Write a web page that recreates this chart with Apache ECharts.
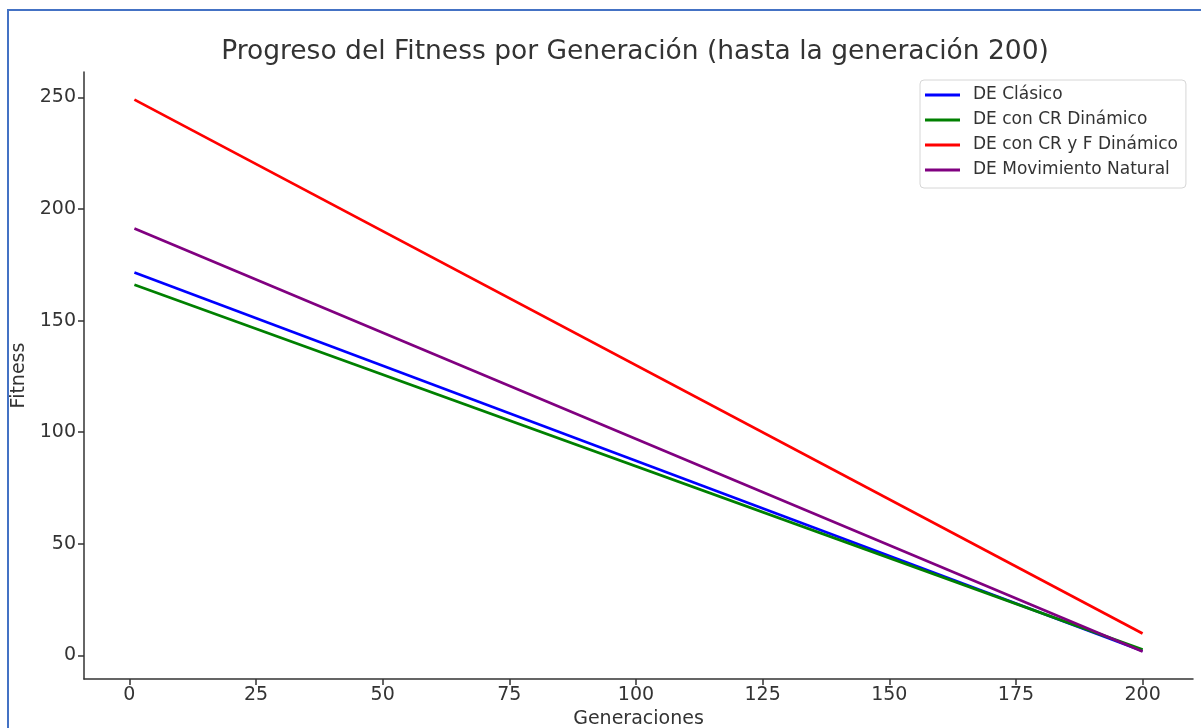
<!DOCTYPE html>
<html>
<head>
<meta charset="utf-8">
<script src="https://cdn.jsdelivr.net/npm/echarts@6/dist/echarts.min.js"></script>
<style>
  html, body { margin: 0; padding: 0; background: #fff; }
  #chart { width: 1201px; height: 728px; }
  #frame { position: absolute; left: 7px; top: 9px; width: 1300px; height: 900px; border: 2px solid #4472C4; box-sizing: border-box; pointer-events: none; }
</style>
</head>
<body>
<div id="chart"></div>
<div id="frame"></div>
<script>
// Data (generations 1..200, straight-line progress)
const generations = [1, 200];
const deClasico = [171.5, 2.0];
const deCR = [166.1, 2.6];
const deCRF = [249.0, 9.8];
const deNatural = [191.2, 1.8];
const seriesNames = ['DE Clásico', 'DE con CR Dinámico', 'DE con CR y F Dinámico', 'DE Movimiento Natural'];
const seriesColors = ['#0000ff', '#008000', '#ff0000', '#800080'];
const xTicks = [0, 25, 50, 75, 100, 125, 150, 175, 200];
const yTicks = [0, 50, 100, 150, 200, 250];

const FONT = 'DejaVu Sans';
const allSeries = [deClasico, deCR, deCRF, deNatural];
const allVals = allSeries.flat();
const xMinD = Math.min(...generations), xMaxD = Math.max(...generations);
const yMinD = Math.min(...allVals), yMaxD = Math.max(...allVals);
const xPad = (xMaxD - xMinD) * 0.05, yPad = (yMaxD - yMinD) * 0.05;

const chart = echarts.init(document.getElementById('chart'));
chart.setOption({
  animation: false,
  backgroundColor: '#ffffff',
  textStyle: { fontFamily: FONT },
  title: {
    text: 'Progreso del Fitness por Generación (hasta la generación 200)',
    left: 630, textAlign: 'center', top: 34,
    textStyle: { fontFamily: FONT, fontSize: 26.5, fontWeight: 'normal', color: '#333333' }
  },
  legend: {
    orient: 'vertical',
    left: 920, top: 80,
    padding: [5, 8, 8, 5],
    itemWidth: 35, itemHeight: 3, itemGap: 5,
    icon: 'rect',
    backgroundColor: '#ffffff',
    borderColor: '#d6d6d6', borderWidth: 1, borderRadius: 4,
    textStyle: { fontFamily: FONT, fontSize: 17, color: '#333333', lineHeight: 20, padding: [0, 0, 0, 8] },
    data: seriesNames
  },
  grid: { left: 84, right: 8, top: 72, bottom: 49, containLabel: false, outerBoundsMode: 'none' },
  xAxis: {
    type: 'value',
    min: xMinD - xPad, max: xMaxD + xPad,
    name: 'Generaciones', nameLocation: 'middle', nameGap: 31,
    nameTextStyle: { fontFamily: FONT, fontSize: 19, color: '#333333' },
    axisLine: { show: true, onZero: false, lineStyle: { color: '#333333', width: 1.5 } },
    axisTick: { show: true, inside: false, length: 6, lineStyle: { color: '#333333', width: 1.5 }, customValues: xTicks },
    axisLabel: { fontFamily: FONT, fontSize: 19, color: '#333333', margin: 7, customValues: xTicks },
    splitLine: { show: false }
  },
  yAxis: {
    type: 'value',
    min: yMinD - yPad, max: yMaxD + yPad,
    name: 'Fitness', nameLocation: 'middle', nameGap: 53,
    nameTextStyle: { fontFamily: FONT, fontSize: 19, color: '#333333' },
    axisLine: { show: true, onZero: false, lineStyle: { color: '#333333', width: 1.5 } },
    axisTick: { show: true, inside: false, length: 6, lineStyle: { color: '#333333', width: 1.5 }, customValues: yTicks },
    axisLabel: { fontFamily: FONT, fontSize: 19, color: '#333333', margin: 8, customValues: yTicks },
    splitLine: { show: false }
  },
  series: allSeries.map((vals, i) => ({
    name: seriesNames[i],
    type: 'line',
    data: generations.map((g, j) => [g, vals[j]]),
    showSymbol: false, symbol: 'none',
    lineStyle: { color: seriesColors[i], width: 2.7 },
    itemStyle: { color: seriesColors[i] },
    z: 2 + i
  }))
});
</script>
</body>
</html>
